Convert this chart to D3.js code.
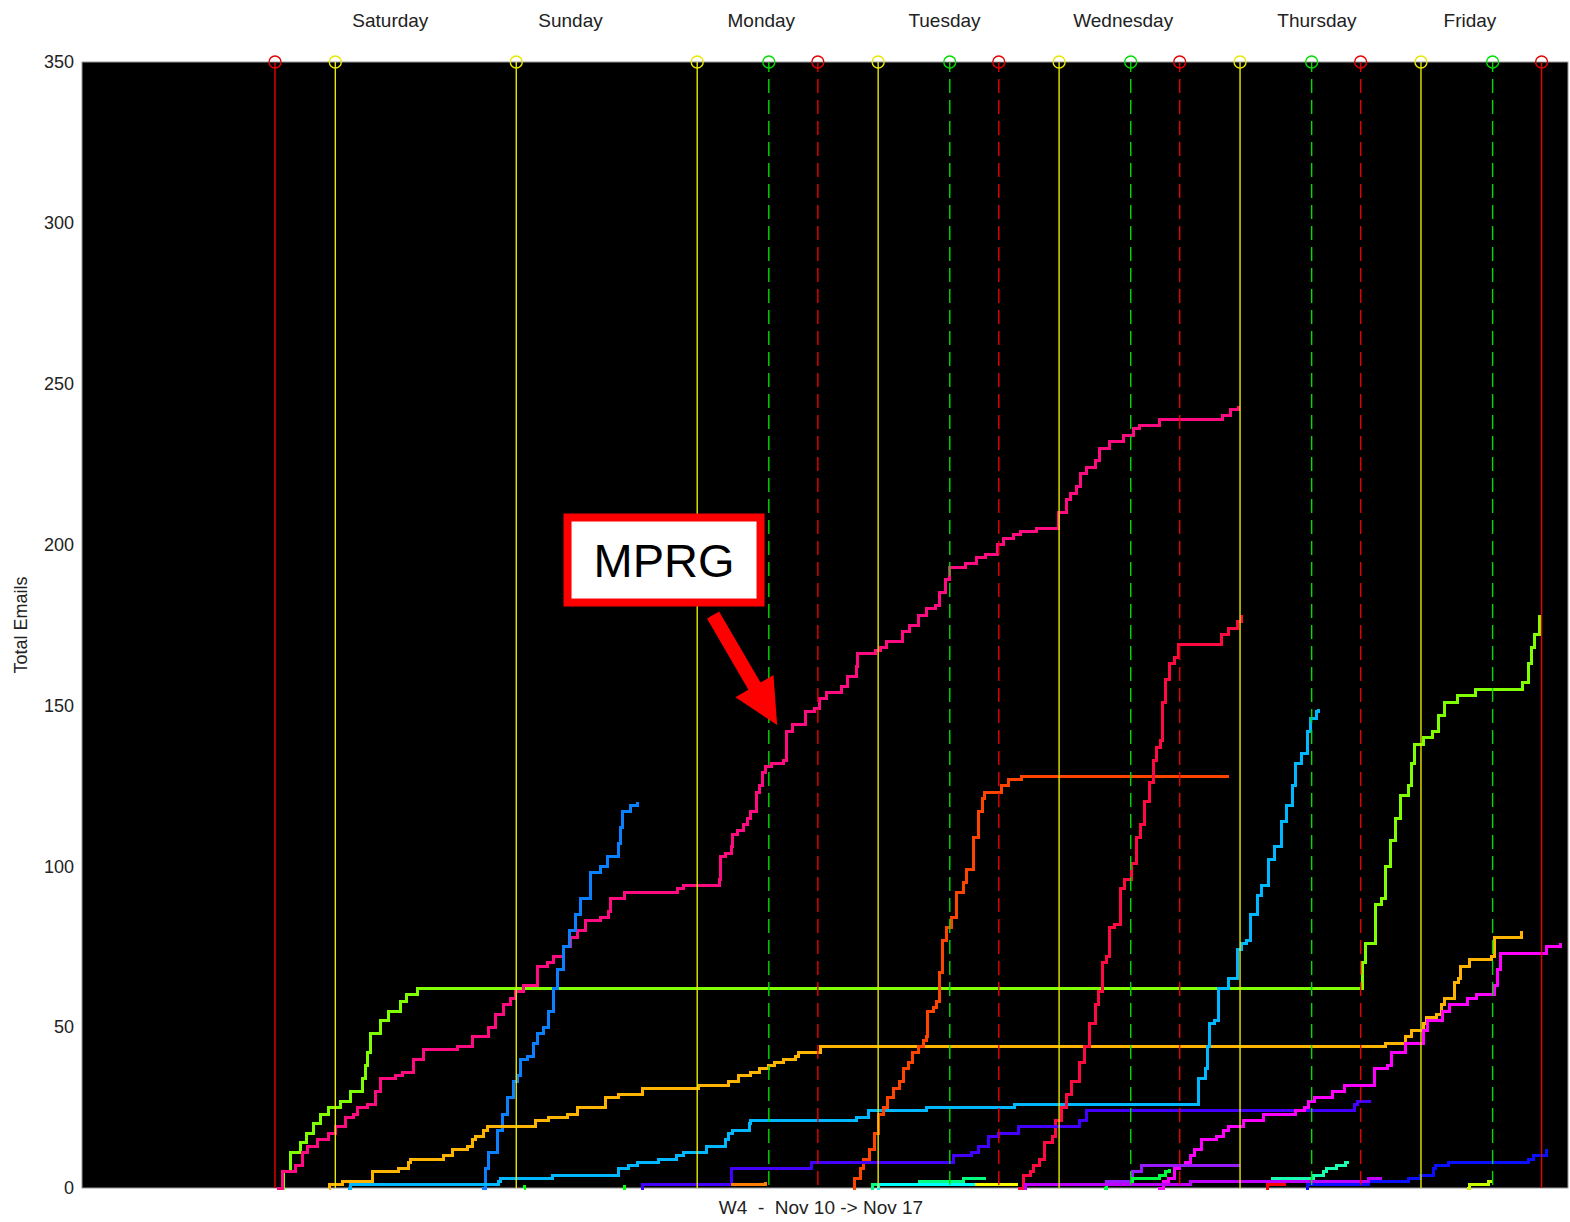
<!DOCTYPE html>
<html lang="en">
<head>
<meta charset="utf-8">
<title>Total Emails - W4</title>
<script src="https://d3js.org/d3.v7.min.js"></script>
<style>
    body { margin: 0; background: #fff; }
    text { font-family: "Liberation Sans", Arial, sans-serif; fill: #222; }
    .tick text { font-size: 18px; }
    .day { font-size: 19px; text-anchor: middle; }
    .xlabel { font-size: 19px; text-anchor: middle; white-space: pre; }
    .ylabel { font-size: 18px; text-anchor: middle; }
    .note text { font-size: 47px; fill: #000; text-anchor: middle; }
</style>
</head>
<body>
<div id="chart"></div>
<script>

// hours from Saturday 00:00, cumulative email counts
var lime = [[-7.3,0],[-6.9,5],[-6.0,11],[-4.6,14],[-3.8,17],[-2.9,20],[-1.9,23],[-0.9,25],[0.7,27],[2.0,30],[3.6,34],[4.0,38],[4.3,42],[4.6,48],[6.0,52],[7.0,55],[8.6,58],[9.5,60],[10.9,62],[136.0,62],[136.3,70],[136.6,76],[138.0,88],[138.7,90],[139.3,100],[139.9,108],[140.6,115],[141.3,122],[142.3,125],[142.7,132],[143.1,138],[144.3,140],[145.5,142],[146.3,147],[147.1,151],[148.8,153],[151.2,155],[156.2,155],[157.4,157],[158.3,163],[158.7,168],[159.0,172],[159.7,178]]
var mprg = [[-7.7,0],[-7.0,5],[-5.3,7],[-4.4,11],[-3.7,13],[-2.3,15],[-0.9,17],[0,19],[1.3,22],[2.4,23],[2.9,25],[4.3,26],[5.3,30],[6.0,34],[8.0,35],[8.9,36],[10.4,40],[11.7,43],[16.2,44],[18.2,47],[20.3,50],[21.3,54],[22.3,57],[23.2,59],[23.9,61],[25.0,63],[26.8,69],[28.2,70],[29.0,72],[30.2,75],[31.2,78],[32.1,80],[33.2,83],[35.2,84],[36.3,86],[36.5,90],[38.3,92],[45.4,93],[46.2,94],[50.9,96],[51.1,103],[51.8,104],[52.5,106],[52.7,110],[53.4,111],[54.2,113],[54.7,115],[55.1,117],[55.8,123],[56.2,125],[56.7,129],[57.1,131],[57.8,132],[59.4,133],[59.9,142],[60.7,144],[62.3,148],[63.6,149],[64.2,152],[65.2,154],[67.1,156],[68.0,159],[69.1,162],[69.3,166],[71.7,167],[72.3,168],[73.1,170],[75.2,173],[76.2,175],[77.3,178],[78.4,180],[79.6,181],[80.1,185],[80.9,189],[81.4,193],[83.6,194],[85.1,196],[86.2,197],[87.8,200],[88.6,202],[89.9,203],[90.9,204],[93.0,205],[95.9,210],[97.0,214],[97.5,216],[98.3,218],[98.8,222],[99.6,224],[100.8,226],[101.4,230],[102.7,232],[104.5,234],[105.9,236],[106.7,237],[109.3,239],[117.7,240],[118.8,242],[119.8,243]]
var blue = [[19.5,0],[19.9,6],[20.3,11],[21.5,18],[22.2,23],[22.8,28],[23.6,33],[24.2,35],[24.6,40],[25.5,41],[26.3,45],[26.8,48],[27.6,50],[28.3,55],[29.0,62],[29.5,68],[30.2,75],[31.0,80],[31.8,85],[32.5,90],[33.9,98],[35.2,100],[36.1,103],[37.5,107],[37.8,112],[38.1,117],[39.2,119],[40.1,120]]
var amber = [[-0.9,0],[-0.8,1],[0.9,2],[4.9,5],[8.4,6],[9.7,8],[10.0,9],[14.3,10],[15.5,12],[17.5,13],[18.2,15],[18.6,16],[19.7,18],[20.2,19],[26.6,21],[28.3,22],[30.8,23],[32.1,25],[35.9,28],[37.6,29],[40.8,31],[48.2,32],[52.2,33],[53.5,35],[55.1,36],[56.2,37],[57.5,38],[58.2,39],[59.5,40],[61.1,41],[61.4,42],[64.4,44],[139.3,45],[142.0,47],[142.8,49],[144.3,51],[144.7,53],[146.1,54],[146.7,57],[147.1,59],[148.5,64],[149.0,65],[149.2,69],[150.4,71],[153.3,72],[153.8,78],[157.3,80]]
var skyBlue = [[1.7,0],[2.0,1],[21.7,2],[21.9,3],[28.8,4],[37.5,6],[38.9,7],[40.1,8],[42.9,9],[45.2,10],[46.2,11],[49.2,13],[51.8,15],[52.2,17],[52.7,18],[54.9,20],[55.1,21],[69.1,22],[70.7,24],[78.4,25],[90.1,26],[114.5,34],[115.4,37],[115.7,44],[116.0,51],[116.6,52],[117.2,62],[118.5,65],[119.7,74],[120.2,76],[120.9,77],[121.4,85],[122.3,91],[122.9,94],[123.8,102],[124.6,106],[125.5,114],[126.2,119],[127.0,125],[127.4,132],[128.2,135],[128.9,142],[129.4,146],[130.1,148],[130.4,149]]
var orangeRed = [[68.7,0],[68.8,3],[69.7,6],[70.1,9],[70.8,12],[71.5,17],[72.0,23],[72.7,25],[73.3,28],[74.1,31],[74.8,33],[75.3,37],[76.0,39],[76.6,42],[77.3,44],[78.0,46],[78.4,47],[78.6,55],[79.3,56],[79.7,58],[80.1,67],[80.6,77],[81.0,81],[81.7,84],[82.4,92],[83.3,95],[83.7,99],[84.6,109],[85.3,117],[85.9,121],[86.1,123],[88.3,125],[89.3,127],[91.0,128],[118.6,128]]
var crimson = [[90.5,0],[91.3,4],[92.2,5],[92.6,7],[93.4,9],[94.0,14],[95.1,16],[95.5,21],[96.3,25],[97.0,29],[97.6,33],[98.7,39],[99.4,44],[100.0,51],[100.8,57],[101.2,61],[101.8,70],[102.3,72],[102.7,81],[103.4,82],[104.1,93],[104.7,96],[105.6,101],[106.3,109],[106.8,113],[107.3,120],[108.0,126],[108.5,133],[108.9,137],[109.5,139],[109.7,151],[110.1,158],[110.7,163],[111.3,165],[111.8,169],[117.6,172],[118.5,174],[119.6,176],[120.2,178]]
var indigo = [[40.5,0],[40.8,1],[52.5,6],[63.1,8],[82.0,10],[84.4,11],[85.3,13],[86.6,16],[87.9,17],[90.6,19],[98.7,21],[99.6,24],[135.2,26],[135.6,27],[137.4,27]]
var magenta = [[109.1,0],[109.9,2],[110.5,3],[111.3,6],[112.0,7],[112.8,8],[113.4,10],[114.0,12],[114.9,15],[116.9,16],[117.8,18],[118.5,19],[120.5,21],[123.1,23],[127.3,24],[128.5,25],[129.1,27],[129.9,28],[132.3,30],[133.8,32],[137.8,37],[139.6,38],[140.1,42],[142.0,45],[144.3,49],[144.9,52],[146.8,55],[147.8,57],[150.2,59],[151.4,60],[153.8,63],[154.1,68],[154.5,73],[160.7,75],[162.5,76]]
var violet = [[102.2,0],[102.3,2],[105.7,5],[106.9,7],[120.0,7]]
var green = [[102.0,0],[102.3,1],[105.7,3],[109.0,3],[109.3,4],[110.1,5],[110.6,6]]
var aqua = [[118.2,2],[124.3,3],[129.7,4],[131.1,5],[131.5,6],[132.8,7],[134.0,8],[134.4,8]]
var royal = [[128.8,0],[128.9,1],[135.6,1],[137.1,2],[142.4,3],[143.9,4],[145.6,6],[145.9,7],[147.7,8],[158.3,9],[158.9,10],[160.7,12]]
var purple = [[91.3,0],[91.5,1],[113.4,2],[137.1,3],[138.8,3]]
var chartreuse = [[150.1,0],[150.4,1],[153.0,2],[153.6,2]]
var scarlet = [[123.5,0],[123.7,1],[126.1,1]]
var tangerine = [[52.5,1],[57.1,2]]
var lemon = [[84.6,1],[90.6,1]]
var spring = [[71.1,0],[71.3,1],[77.5,2],[83.3,3],[86.3,3]]
var cyan = [[71.8,0],[72.0,1],[84.8,1]]
var mint = [[25.0,0],[25.1,1]]
var mint2 = [[38.2,0],[38.3,1]]

var series = [lime, mprg, blue, amber, skyBlue, orangeRed, crimson, indigo, magenta, violet, green, aqua, royal, purple, chartreuse, scarlet, tangerine, lemon, spring, cyan, mint, mint2]
var seriesColors = ["#80ff00", "#ff0a80", "#0a80ff", "#ffb400", "#00b8ff", "#ff4400", "#ff0a40", "#4400ff", "#ff00ff", "#9a1aff", "#00ff40", "#1affb0", "#0a10ff", "#c000ff", "#c8ff00", "#ff0000", "#ff8000", "#ffff00", "#00ff80", "#00ffff", "#00ff00", "#00ff00"]

// day markers (hours)
var redSolid = [-8, 160]
var yellowSolid = [0, 24, 48, 72, 96, 120, 144]
var greenDashed = [57.5, 81.5, 105.5, 129.5, 153.5]
var redDashed = [64, 88, 112, 136]

var dayNames = ["Saturday", "Sunday", "Monday", "Tuesday", "Wednesday", "Thursday", "Friday"]
var dayLabelAt = [7.3, 31.2, 56.5, 80.8, 104.5, 130.2, 150.5]

var yTicks = [0, 50, 100, 150, 200, 250, 300, 350]

var note = {text: "MPRG", box: [43.6, 195.2], from: [50.1, 178.1], to: [58.6, 143.9]}

var width = 1570
var height = 1222

var x = d3.scaleLinear().domain([-33.6, 163.5]).range([82, 1568])
var y = d3.scaleLinear().domain([0, 350]).range([1188, 62])

var svg = d3.select("#chart")
  .append("svg")
    .attr("width", width)
    .attr("height", height)

// plot area
svg.append("rect")
    .attr("x", x.range()[0])
    .attr("y", y.range()[1])
    .attr("width", x.range()[1] - x.range()[0])
    .attr("height", y.range()[0] - y.range()[1])
    .attr("fill", "#000")
    .attr("stroke", "#999")
    .attr("stroke-width", 1)

// y axis labels only
var yAxis = svg.append("g")
    .attr("transform", "translate(" + x.range()[0] + ",0)")
    .call(d3.axisLeft(y).tickValues(yTicks).tickSize(0).tickPadding(8))
yAxis.select(".domain").remove()
yAxis.selectAll("text").attr("fill", "#222")

svg.append("text")
    .attr("class", "ylabel")
    .attr("transform", "translate(27,625) rotate(-90)")
    .text("Total Emails")

svg.append("text")
    .attr("class", "xlabel")
    .attr("x", 821)
    .attr("y", 1214)
    .text("W4  -  Nov 10 -> Nov 17")

svg.selectAll("text.day")
    .data(dayNames)
    .enter()
    .append("text")
    .attr("class", "day")
    .attr("x", (d, i) => x(dayLabelAt[i]))
    .attr("y", 27)
    .text(d => d)

// email curves
var line = d3.line()
    .x(d => x(d[0]))
    .y(d => y(d[1]))
    .curve(d3.curveStepAfter)

svg.append("g")
  .selectAll("path")
  .data(series)
  .enter()
  .append("path")
    .attr("d", line)
    .attr("fill", "none")
    .attr("stroke", (d, i) => seriesColors[i])
    .attr("stroke-width", 3)
    .attr("stroke-linejoin", "miter")
    .attr("shape-rendering", "crispEdges")

// vertical day markers, drawn over the curves
function markers(values, color, dashed) {
    var g = svg.append("g")
    g.selectAll("line")
      .data(values)
      .enter()
      .append("line")
        .attr("x1", d => x(d))
        .attr("x2", d => x(d))
        .attr("y1", y(350))
        .attr("y2", y(0))
        .attr("stroke", color)
        .attr("stroke-width", 1.4)
        .attr("stroke-dasharray", dashed ? "14,7" : null)
        .attr("stroke-dashoffset", dashed ? 4 : null)
    g.selectAll("circle")
      .data(values)
      .enter()
      .append("circle")
        .attr("cx", d => x(d))
        .attr("cy", y(350))
        .attr("r", 6)
        .attr("fill", "none")
        .attr("stroke", color)
        .attr("stroke-width", 1.4)
}
markers(redSolid, "#e80000", false)
markers(yellowSolid, "#e8e800", false)
markers(greenDashed, "#00dd00", true)
markers(redDashed, "#e80000", true)

// MPRG callout
var ng = svg.append("g").attr("class", "note")
var bx = x(note.box[0]), by = y(note.box[1])
ng.append("rect")
    .attr("x", bx - 96.5)
    .attr("y", by - 42.5)
    .attr("width", 193)
    .attr("height", 85)
    .attr("fill", "#fff")
    .attr("stroke", "#ff0000")
    .attr("stroke-width", 8)
ng.append("text")
    .attr("x", bx)
    .attr("y", by + 17)
    .text(note.text)

var tx = x(note.to[0]), ty = y(note.to[1])
var fx = x(note.from[0]), fy = y(note.from[1])
var len = Math.hypot(tx - fx, ty - fy)
var ux = (tx - fx) / len, uy = (ty - fy) / len
var headLen = 45, headHalf = 22
var baseX = tx - headLen * ux, baseY = ty - headLen * uy
ng.append("line")
    .attr("x1", fx).attr("y1", fy)
    .attr("x2", baseX + 2 * ux).attr("y2", baseY + 2 * uy)
    .attr("stroke", "#ff0000")
    .attr("stroke-width", 14)
ng.append("polygon")
    .attr("points", [
        [tx, ty],
        [baseX - headHalf * uy, baseY + headHalf * ux],
        [baseX + headHalf * uy, baseY - headHalf * ux]
    ].map(p => p.join(",")).join(" "))
    .attr("fill", "#ff0000")

</script>
</body>
</html>
